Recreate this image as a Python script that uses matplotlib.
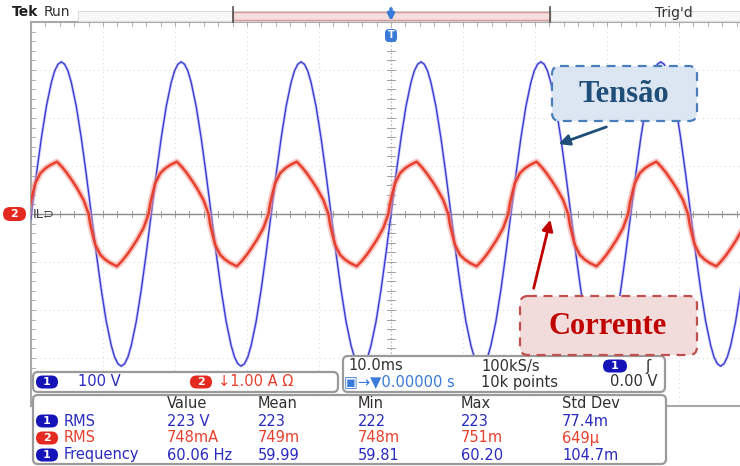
import numpy as np
import matplotlib
matplotlib.use("Agg")
import matplotlib.pyplot as plt
from matplotlib.patches import FancyBboxPatch, Rectangle

# ---------------------------------------------------------
# Data
# ---------------------------------------------------------
freq_hz = 60.06            # channel 1 frequency
volts_per_div = 100.0      # channel 1 scale
amps_per_div = 1.0         # channel 2 scale
ms_per_div = 10.0

# one cycle of the voltage trace (phase in degrees, volts)
v_phase = [0, 15, 30, 45, 60, 70, 80, 90, 100, 110, 120, 135, 150, 165, 180,
           195, 210, 225, 240, 250, 260, 270, 280, 290, 300, 315, 330, 345, 360]
v_cycle = [0, 82, 158, 224, 274, 298, 312, 317, 312, 298, 274, 224, 158, 82, 0,
           -82, -158, -224, -274, -298, -312, -317, -312, -298, -274, -224, -158, -82, 0]

# one cycle of the current trace (phase vs. voltage in degrees, amps)
i_phase = [-8, -3, 5, 12, 27, 42, 57, 77, 92, 107, 122, 137, 157, 172,
           177, 185, 192, 207, 222, 237, 257, 272, 287, 302, 317, 337, 352]
i_cycle = [0, 0.22, 0.45, 0.64, 0.85, 0.95, 1.02, 1.09, 0.98, 0.85, 0.70, 0.54, 0.29, 0,
           -0.22, -0.45, -0.64, -0.85, -0.95, -1.02, -1.09, -0.98, -0.85, -0.70, -0.54, -0.29, 0]

meas_cols = ["Value", "Mean", "Min", "Max", "Std Dev"]
meas_rows = [("1", "RMS", ["223 V", "223", "222", "223", "77.4m"]),
             ("2", "RMS", ["748mA", "749m", "748m", "751m", "649\u03bc"]),
             ("1", "Frequency", ["60.06 Hz", "59.99", "59.81", "60.20", "104.7m"])]

BLUE = "#2a2ac0"
RED = "#e8402e"
CH_COLORS = {"1": "#1414b8", "2": "#e42a20"}
FS = 10.5

# ---------------------------------------------------------
# Build traces
# ---------------------------------------------------------
period_ms = 1000.0 / freq_hz
t_v, y_v, t_i, y_i = [], [], [], []
for k in range(-4, 4):
    t_v += [(k + p / 360.0) * period_ms for p in v_phase]
    y_v += [v / volts_per_div for v in v_cycle]
    t_i += [(k + p / 360.0) * period_ms for p in i_phase]
    y_i += [i / amps_per_div for i in i_cycle]

W, H = 740, 466
fig = plt.figure(figsize=(W / 100, H / 100), dpi=100)

# graticule: left edge x=31, centre x=391, 72 px/div, rows 22..406
x_left, x_mid, px_div = 31, 391, 72
ax = fig.add_axes([x_left / W, (H - 406) / H, (W - x_left) / W, 384 / H])
ax.set_xlim(-5 * ms_per_div, (W - x_mid) / px_div * ms_per_div)
ax.set_ylim(-4, 4)
ax.set_xticks([])
ax.set_yticks([])
for s in ["left", "top", "bottom"]:
    ax.spines[s].set_color("#a8a8a8")
    ax.spines[s].set_linewidth(1.5)
ax.spines["right"].set_visible(False)

for gx in np.arange(-40, 50, 10):
    ax.axvline(gx, color="#dcdcdc", lw=0.8, ls=(0, (1, 3)), zorder=1)
for gy in range(-3, 4):
    ax.axhline(gy, color="#dcdcdc", lw=0.8, ls=(0, (1, 3)), zorder=1)
ax.axhline(0, color="#8a8a8a", lw=1.0, zorder=1)
ax.axvline(0, color="#b4b4b4", lw=0.9, ls=(0, (1, 2)), zorder=1)

# minor ticks on centre lines and borders
for tx in np.arange(-50, 50, 2):
    ax.plot([tx, tx], [-0.07, 0.07], color="#9a9a9a", lw=0.7, zorder=1)
    ax.plot([tx, tx], [4, 3.92], color="#b0b0b0", lw=0.7, zorder=1)
for ty in np.arange(-4, 4.01, 0.2):
    ax.plot([-0.5, 0.5], [ty, ty], color="#a0a0a0", lw=0.7, zorder=1)
    ax.plot([-50, -49.4], [ty, ty], color="#b0b0b0", lw=0.7, zorder=1)

# traces
ax.plot(t_v, y_v, color="#8080ff", lw=2.2, alpha=0.35, zorder=2)
ax.plot(t_v, y_v, color="#3c3cd0", lw=1.0, zorder=3)
ax.plot(t_i, y_i, color="#f49a90", lw=4.5, alpha=0.55, zorder=4)
ax.plot(t_i, y_i, color=RED, lw=1.8, zorder=5)

# ---------------------------------------------------------
# Overlay in pixel coordinates (scope readouts + callouts)
# ---------------------------------------------------------
ov = fig.add_axes([0, 0, 1, 1], zorder=10)
ov.set_xlim(0, W)
ov.set_ylim(H, 0)
ov.axis("off")


def badge(x, y, label, color, w=22, h=13):
    ov.add_patch(FancyBboxPatch((x - w / 2, y - h / 2), w, h,
                                boxstyle="round,pad=0,rounding_size=6.5",
                                facecolor=color, edgecolor="none"))
    ov.text(x, y, label, color="white", fontsize=8, fontweight="bold",
            ha="center", va="center")


# top status bar
ov.text(12, 12, "Tek", fontsize=10, fontweight="bold", color="#202020", va="center")
ov.text(44, 12, "Run", fontsize=10, color="#303030", va="center")
ov.add_patch(Rectangle((78, 11), W - 78, 10, facecolor="#f8f8f8", edgecolor="#dcdcdc", lw=0.8))
ov.add_patch(Rectangle((233, 12), 317, 8, facecolor="#f6dede", edgecolor="#d49a9a", lw=1.0))
ov.plot([233, 233], [7, 22], color="#505050", lw=1.2)
ov.plot([550, 550], [7, 22], color="#505050", lw=1.2)
ov.text(655, 13, "Trig'd", fontsize=10, color="#303030", va="center")

# trigger position marker
ov.annotate("", xy=(391, 24), xytext=(391, 6),
            arrowprops=dict(arrowstyle="-|>", color="#3a7ad8", lw=2.5, mutation_scale=9))
ov.add_patch(FancyBboxPatch((385, 29), 12, 13, boxstyle="round,pad=0,rounding_size=4",
                            facecolor="#3a7ad8", edgecolor="none"))
ov.text(391, 35.5, "T", color="white", fontsize=7, fontweight="bold", ha="center", va="center")

# channel ground marker
ov.add_patch(FancyBboxPatch((3, 207), 23, 14, boxstyle="round,pad=0,rounding_size=7",
                            facecolor="#e42a20", edgecolor="none"))
ov.text(14, 214, "2", color="white", fontsize=8, fontweight="bold", ha="center", va="center")
ov.text(33, 214, "IL\u2283", fontsize=9.5, color="#404040", va="center")

# channel scale panel
ov.add_patch(FancyBboxPatch((33, 372), 305, 20, boxstyle="round,pad=0,rounding_size=5",
                            facecolor="white", edgecolor="#9a9a9a", lw=1.6))
badge(47, 382, "1", CH_COLORS["1"])
ov.text(78, 382, "100 V", fontsize=FS, color=BLUE, va="center")
badge(201, 382, "2", CH_COLORS["2"])
ov.text(218, 382, "\u21931.00 A \u03a9", fontsize=FS, color=RED, va="center")

# timebase panel
ov.add_patch(FancyBboxPatch((343, 356), 322, 36, boxstyle="round,pad=0,rounding_size=5",
                            facecolor="white", edgecolor="#9a9a9a", lw=1.6))
ov.text(348, 366, "10.0ms", fontsize=FS, color="#303030", va="center")
ov.text(481, 366, "100kS/s", fontsize=FS, color="#303030", va="center")
badge(615, 366, "1", CH_COLORS["1"], w=24)
ov.text(645, 366, "\u0283", fontsize=11, color="#303030", va="center")
ov.text(344, 382, "\u25a3\u2192\u25bc0.00000 s", fontsize=FS, color="#3a7ad8", va="center")
ov.text(481, 382, "10k points", fontsize=FS, color="#303030", va="center")
ov.text(658, 382, "0.00 V", fontsize=FS, color="#303030", va="center", ha="right")

# measurement panel
ov.add_patch(FancyBboxPatch((33, 395), 633, 69, boxstyle="round,pad=0,rounding_size=5",
                            facecolor="white", edgecolor="#9a9a9a", lw=1.6))
col_x = [167, 258, 358, 461, 562]
row_y = [421, 438, 455]
for cx, name in zip(col_x, meas_cols):
    ov.text(cx, 404, name, fontsize=FS, color="#303030", va="center")
for ry, (ch, label, vals) in zip(row_y, meas_rows):
    c = BLUE if ch == "1" else RED
    badge(47, ry, ch, CH_COLORS[ch])
    ov.text(64, ry, label, fontsize=FS, color=c, va="center")
    for cx, v in zip(col_x, vals):
        ov.text(cx, ry, v, fontsize=FS, color=c, va="center")

# callouts
ov.add_patch(FancyBboxPatch((552, 66), 145, 55, boxstyle="round,pad=0,rounding_size=8",
                            facecolor="#dce6f2", edgecolor="#4a7ebb", lw=1.6, ls=(0, (4, 3))))
ov.text(624, 95, "Tens\u00e3o", fontsize=22, fontweight="bold", family="Liberation Serif",
        color="#1f4e79", ha="center", va="center")
ov.annotate("", xy=(556, 145), xytext=(609, 126),
            arrowprops=dict(arrowstyle="-|>", color="#1f4e79", lw=2, mutation_scale=16))

ov.add_patch(FancyBboxPatch((520, 296), 177, 59, boxstyle="round,pad=0,rounding_size=8",
                            facecolor="#f2dcdb", edgecolor="#c0504d", lw=1.6, ls=(0, (4, 3))))
ov.text(608, 327, "Corrente", fontsize=22, fontweight="bold", family="Liberation Serif",
        color="#c00000", ha="center", va="center")
ov.annotate("", xy=(551, 217), xytext=(533, 291),
            arrowprops=dict(arrowstyle="-|>", color="#c00000", lw=2, mutation_scale=16))

fig.savefig("out.png", dpi=100)
